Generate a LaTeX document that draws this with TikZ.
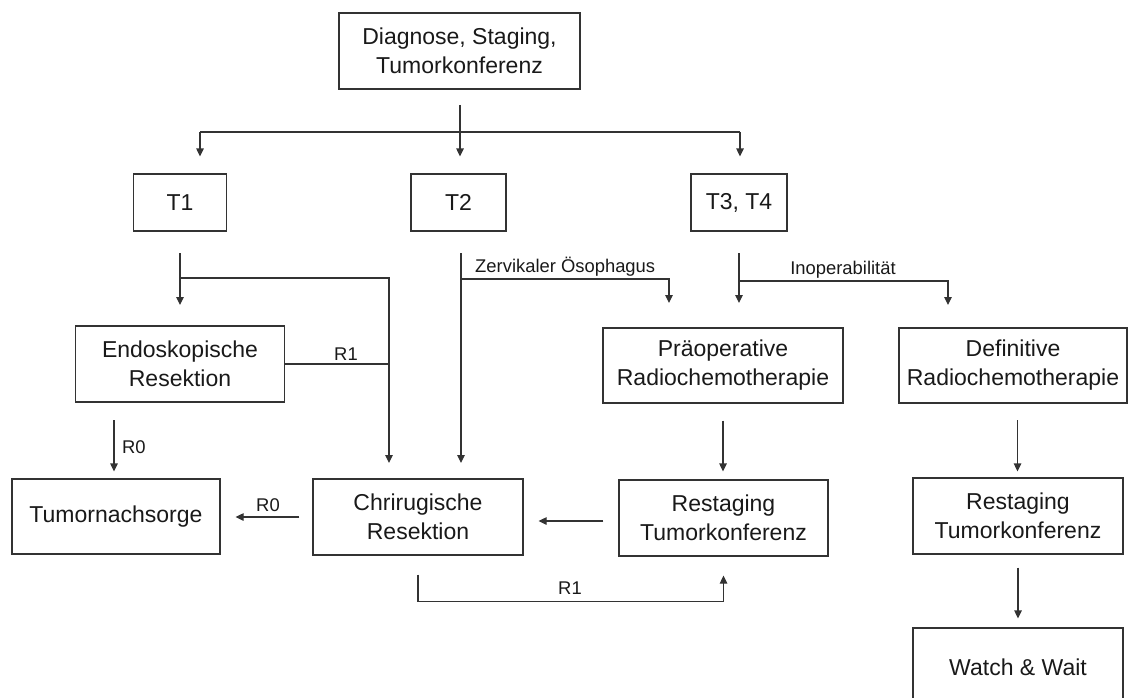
\documentclass[tikz,border=0pt]{standalone}
\usepackage{fontspec}
\setmainfont{Liberation Sans}
\usetikzlibrary{arrows.meta}
\newcommand\boxfont{\fontsize{23}{29}\selectfont}
\newcommand\lblfont{\fontsize{18.4}{22}\selectfont}
\begin{document}
\begin{tikzpicture}[x=1pt,y=-1pt,
  box/.style={draw=black!80, line width=1.2pt, align=center, font=\boxfont, inner sep=0pt, text=black!90},
  conn/.style={draw=black!80, line width=1.2pt},
  arr/.style={conn, -{Triangle[length=8pt,width=7.5pt]}},
  lbl/.style={font=\lblfont, inner sep=0pt, text=black!90}]
\useasboundingbox (0,0) rectangle (1129,698);
\clip (0,0) rectangle (1129,698);
% nodes
\node[box, minimum width=241pt, minimum height=76pt] (diag) at (459.5,51) {Diagnose, Staging,\\Tumorkonferenz};
\node[box, minimum width=93pt, minimum height=57pt] (t1) at (180,202.5) {T1};
\node[box, minimum width=95pt, minimum height=57pt] (t2) at (458.5,202.5) {T2};
\node[box, minimum width=96pt, minimum height=57pt] (t34) at (739,202.5) {T3, T4};
\node[box, minimum width=209pt, minimum height=76pt] (endo) at (180,364) {Endoskopische\\Resektion};
\node[box, minimum width=240pt, minimum height=75pt] (praeop) at (723,365.5) {Präoperative\\Radiochemotherapie};
\node[box, minimum width=228pt, minimum height=75pt] (defin) at (1013,365.5) {Definitive\\Radiochemotherapie};
\node[box, minimum width=208pt, minimum height=75pt] (nach) at (116,516.5) {Tumornachsorge};
\node[box, minimum width=210pt, minimum height=76pt] (chir) at (418,517) {Chrirugische\\Resektion};
\node[box, minimum width=209pt, minimum height=76pt] (rest1) at (723.5,518) {Restaging\\Tumorkonferenz};
\node[box, minimum width=210pt, minimum height=76pt] (rest2) at (1018,516) {Restaging\\Tumorkonferenz};
\node[box, minimum width=210pt, minimum height=78pt] (watch) at (1018,667) {Watch \& Wait};
% coordinates
\coordinate (topS) at (460,105);
\coordinate (hL) at (200,132);
\coordinate (hR) at (740,132);
\coordinate (t1s) at (180,253);
\coordinate (t1b) at (180,278);
\coordinate (t1e) at (180,305);
\coordinate (chirA) at (389,463);
\coordinate (endoR) at (389,364);
\coordinate (r0s) at (114,420);
\coordinate (t2s) at (461,253);
\coordinate (t2b) at (461,279);
\coordinate (chirB) at (461,463);
\coordinate (praeA) at (669,303);
\coordinate (t34s) at (739,253);
\coordinate (t34b) at (739,281);
\coordinate (t34e) at (739,303);
\coordinate (definA) at (948,305);
\coordinate (defS) at (1017.5,420);
% connectors
\draw[arr] (topS) -- ([yshift=17pt]t2.north -| topS);
\draw[conn] (hL) -- (hR);
\draw[arr] (hL) -- ([yshift=17pt]t1.north -| hL);
\draw[arr] (hR) -- ([yshift=17pt]t34.north -| hR);
\draw[arr] (t1s) -- (t1e);
\draw[arr] (t1b) -| (chirA);
\draw[conn] (endo.east) -- (endoR);
\node[lbl] (lr1) at (346,354) {R1};
\draw[arr] (r0s) -- ([yshift=7pt]nach.north -| r0s);
\node[lbl, anchor=west] (lr0a) at (122,447) {R0};
\draw[arr] ([xshift=-13pt]chir.west) -- ([xshift=15pt]nach.east |- chir.west);
\node[lbl] (lr0b) at (268,505) {R0};
\draw[arr] (t2s) -- (chirB);
\draw[arr] (t2b) -| (praeA);
\node[lbl, anchor=west] (lzerv) at (475,267) {Zervikaler Ösophagus};
\draw[arr] (t34s) -- (t34e);
\draw[arr] (t34b) -| (definA);
\node[lbl] (linop) at (843,270) {Inoperabilität};
\draw[arr] ([yshift=-17pt]praeop.south) -- ([yshift=8pt]rest1.north -| praeop.south);
\draw[arr] ([xshift=-15pt,yshift=-3pt]rest1.west) -- ([xshift=15pt,yshift=-3pt]rest1.west -| chir.east);
\draw[arr] ([yshift=-19pt]chir.south) -- ([yshift=-46pt]chir.south) -| ([yshift=-19pt]rest1.south);
\node[lbl] (lr1b) at (570,588) {R1};
\draw[arr] (defS) -- ([yshift=6pt]rest2.north -| defS);
\draw[arr] ([yshift=-13pt]rest2.south) -- ([yshift=9pt]watch.north);
\end{tikzpicture}
\end{document}
